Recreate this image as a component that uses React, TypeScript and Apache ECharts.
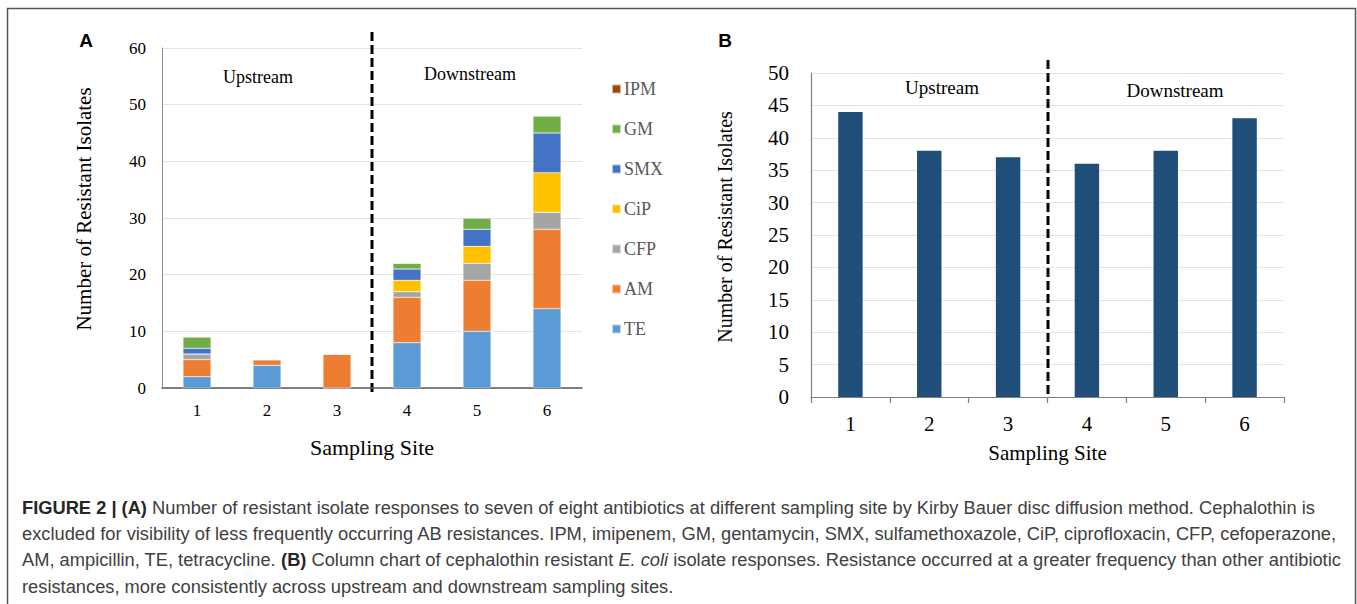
import React, { useEffect, useRef } from "react";
import * as echarts from "echarts";

// Sampling sites (x categories)
const sites = ["1", "2", "3", "4", "5", "6"];

// Panel A: resistant isolates per antibiotic, stacked per site
const te = [2, 4, 0, 8, 10, 14];
const am = [3, 1, 6, 8, 9, 14];
const cfp = [1, 0, 0, 1, 3, 3];
const cip = [0, 0, 0, 2, 3, 7];
const smx = [1, 0, 0, 2, 3, 7];
const gm = [2, 0, 0, 1, 2, 3];
const ipm = [0, 0, 0, 0, 0, 0];

// Panel B: cephalothin-resistant isolates per site
const cephalothin = [44, 38, 37, 36, 38, 43];

const antibioticNames = ["TE", "AM", "CFP", "CiP", "SMX", "GM", "IPM"];
const antibioticValues = [te, am, cfp, cip, smx, gm, ipm];
const antibioticColors = ["#5B9BD5", "#ED7D31", "#A5A5A5", "#FFC000", "#4472C4", "#70AD47", "#9E480E"];
const legendOrder = ["IPM", "GM", "SMX", "CiP", "CFP", "AM", "TE"];

const SERIF = "'Liberation Serif', 'Times New Roman', serif";
const SANS = "'Liberation Sans', Arial, sans-serif";

const captionLines = [
  "{b|FIGURE 2 | (A)} Number of resistant isolate responses to seven of eight antibiotics at different sampling site by Kirby Bauer disc diffusion method. Cephalothin is",
  "excluded for visibility of less frequently occurring AB resistances. IPM, imipenem, GM, gentamycin, SMX, sulfamethoxazole, CiP, ciprofloxacin, CFP, cefoperazone,",
  "AM, ampicillin, TE, tetracycline. {b|(B)} Column chart of cephalothin resistant {i|E. coli} isolate responses. Resistance occurred at a greater frequency than other antibiotic",
  "resistances, more consistently across upstream and downstream sampling sites.",
];

export default function App() {
  const ref = useRef<HTMLDivElement>(null);

  useEffect(() => {
    if (!ref.current) return;
    const chart = echarts.init(ref.current, undefined, { renderer: "svg" });

    const stackSeries = antibioticNames.map((name, i) => ({
      name,
      type: "bar",
      stack: "sites",
      xAxisIndex: 0,
      yAxisIndex: 0,
      barWidth: "40%",
      data: antibioticValues[i],
      itemStyle: { color: antibioticColors[i], borderColor: "rgba(255,255,255,0.6)", borderWidth: 0.5 },
    }));

    const option: any = {
      animation: false,
      backgroundColor: "#ffffff",
      legend: {
        data: legendOrder,
        orient: "vertical",
        left: 606,
        top: 75,
        icon: "rect",
        itemWidth: 9,
        itemHeight: 9,
        itemGap: 22,
        selectedMode: false,
        textStyle: { color: "#595959", fontFamily: SERIF, fontSize: 18, lineHeight: 18, padding: [0, 0, 0, -2] },
      },
      grid: [
        { left: 162, top: 48, width: 420, height: 340, containLabel: false },
        { left: 811, top: 73, width: 473, height: 324, containLabel: false },
      ],
      xAxis: [
        {
          type: "category",
          gridIndex: 0,
          data: sites,
          axisLine: { show: true, lineStyle: { color: "#5a5a5a", width: 1.5 } },
          axisTick: { show: false },
          axisLabel: { color: "#000", fontFamily: SERIF, fontSize: 17, margin: 14 },
          name: "Sampling Site",
          nameLocation: "middle",
          nameGap: 48,
          nameTextStyle: { color: "#000", fontFamily: SERIF, fontSize: 22 },
        },
        {
          type: "category",
          gridIndex: 1,
          data: sites,
          axisLine: { show: true, lineStyle: { color: "#7f7f7f", width: 1.2 } },
          axisTick: { show: true, length: 6, inside: false, lineStyle: { color: "#7f7f7f", width: 1.2 } },
          axisLabel: { color: "#000", fontFamily: SERIF, fontSize: 21, margin: 16 },
          name: "Sampling Site",
          nameLocation: "middle",
          nameGap: 45,
          nameTextStyle: { color: "#000", fontFamily: SERIF, fontSize: 21 },
        },
      ],
      yAxis: [
        {
          type: "value",
          gridIndex: 0,
          min: 0,
          max: 60,
          interval: 10,
          axisLine: { show: true, lineStyle: { color: "#8c8c8c", width: 1 } },
          axisTick: { show: false },
          splitLine: { lineStyle: { color: "#e3e3e3", width: 1 } },
          axisLabel: { color: "#000", fontFamily: SERIF, fontSize: 17, margin: 16 },
          name: "Number of Resistant Isolates",
          nameLocation: "middle",
          nameGap: 68,
          nameTextStyle: { color: "#000", fontFamily: SERIF, fontSize: 21, padding: [0, 0, 0, 18] },
        },
        {
          type: "value",
          gridIndex: 1,
          min: 0,
          max: 50,
          interval: 5,
          axisLine: { show: true, lineStyle: { color: "#7f7f7f", width: 1.2 } },
          axisTick: { show: false },
          splitLine: { lineStyle: { color: "#e3e3e3", width: 1 } },
          axisLabel: { color: "#000", fontFamily: SERIF, fontSize: 21, margin: 22 },
          name: "Number of Resistant Isolates",
          nameLocation: "middle",
          nameGap: 76,
          nameTextStyle: { color: "#000", fontFamily: SERIF, fontSize: 20, padding: [0, 0, 0, 16] },
        },
      ],
      series: [
        ...stackSeries,
        {
          name: "Cephalothin",
          type: "bar",
          xAxisIndex: 1,
          yAxisIndex: 1,
          barWidth: "31%",
          data: cephalothin,
          itemStyle: { color: "#1F4E79" },
        },
      ],
    };

    chart.setOption(option);

    // Dividers between upstream (sites 1-3) and downstream (sites 4-6)
    const midX = (axisIndex: number) => {
      const a = chart.convertToPixel({ xAxisIndex: axisIndex }, sites[2]) as number;
      const b = chart.convertToPixel({ xAxisIndex: axisIndex }, sites[3]) as number;
      return (a + b) / 2;
    };
    const xA = Math.round(midX(0));
    const xB = Math.round(midX(1));
    const topA = chart.convertToPixel({ yAxisIndex: 0 }, 60) as number;
    const botA = chart.convertToPixel({ yAxisIndex: 0 }, 0) as number;
    const topB = chart.convertToPixel({ yAxisIndex: 1 }, 50) as number;
    const botB = chart.convertToPixel({ yAxisIndex: 1 }, 0) as number;

    const dashStyle = { stroke: "#000", lineWidth: 3, lineDash: [9, 4] };

    const captionSize = 18.3;
    const captionTexts = captionLines.map((line, i) => ({
      type: "text",
      left: 22,
      top: 498 + i * 26.4,
      style: {
        text: line,
        fill: "#404040",
        font: `${captionSize}px ${SANS}`,
        rich: {
          b: { fontWeight: "bold", fontSize: captionSize, fontFamily: SANS, fill: "#262626" },
          i: { fontStyle: "italic", fontSize: captionSize, fontFamily: SANS, fill: "#404040" },
        },
      },
    }));

    chart.setOption({
      graphic: [
        {
          type: "rect",
          shape: { x: 7.5, y: 8.5, width: 1348, height: 700 },
          style: { fill: "none", stroke: "#555", lineWidth: 1.5 },
          silent: true,
        },
        { type: "line", shape: { x1: xA, y1: topA - 16, x2: xA, y2: botA + 5 }, style: dashStyle },
        { type: "line", shape: { x1: xB, y1: topB - 13, x2: xB, y2: botB - 3 }, style: dashStyle },
        { type: "text", x: 86, y: 40, style: { text: "A", font: `bold 19px ${SANS}`, fill: "#000", align: "center", verticalAlign: "middle" } },
        { type: "text", x: 725, y: 40, style: { text: "B", font: `bold 19px ${SANS}`, fill: "#000", align: "center", verticalAlign: "middle" } },
        { type: "text", x: 258, y: 77, style: { text: "Upstream", font: `18px ${SERIF}`, fill: "#000", align: "center", verticalAlign: "middle" } },
        { type: "text", x: 470, y: 74, style: { text: "Downstream", font: `18px ${SERIF}`, fill: "#000", align: "center", verticalAlign: "middle" } },
        { type: "text", x: 942, y: 87, style: { text: "Upstream", font: `19px ${SERIF}`, fill: "#000", align: "center", verticalAlign: "middle" } },
        { type: "text", x: 1175, y: 90, style: { text: "Downstream", font: `19px ${SERIF}`, fill: "#000", align: "center", verticalAlign: "middle" } },
        ...captionTexts,
      ],
    });

    return () => chart.dispose();
  }, []);

  return (
    <div
      ref={ref}
      style={{ position: "fixed", left: 0, top: 0, width: 1357, height: 604, background: "#fff" }}
    />
  );
}
